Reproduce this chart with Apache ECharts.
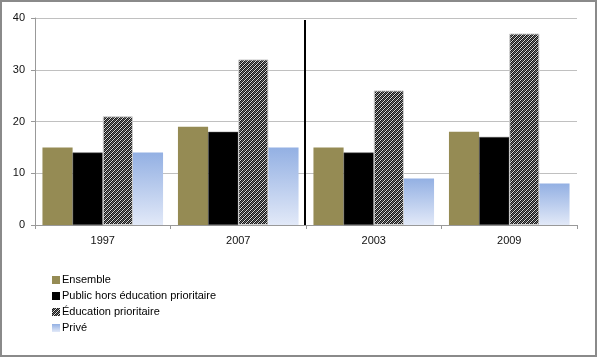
<!DOCTYPE html>
<html><head><meta charset="utf-8">
<script src="https://cdn.jsdelivr.net/npm/echarts@6/dist/echarts.min.js"></script>
<style>
html,body{margin:0;padding:0;background:#fff;}
#wrap{width:597px;height:357px;box-sizing:border-box;border:2px solid #8a8a8a;position:relative;}
#c{position:absolute;left:-2px;top:-2px;width:597px;height:357px;}
</style></head><body>
<div id="wrap"><div id="c"></div></div>
<script>
var categories = ['1997', '2007', '2003', '2009'];
var seriesNames = ['Ensemble', 'Public hors éducation prioritaire', 'Éducation prioritaire', 'Privé'];
var ensemble = [15, 19, 15, 18];
var publicHors = [14, 18, 14, 17];
var educPrio = [21, 32, 26, 37];
var prive = [14, 15, 9, 8];
var yTicks = [0, 10, 20, 30, 40];

function makePattern() {
  var cv = document.createElement('canvas');
  cv.width = 4; cv.height = 4;
  var ctx = cv.getContext('2d');
  var cols = ['#dcdcdc', '#111111', '#6a6a6a', '#1e1e1e'];
  for (var x = 0; x < 4; x++) {
    for (var y = 0; y < 4; y++) {
      ctx.fillStyle = cols[(x + y) % 4];
      ctx.fillRect(x, y, 1, 1);
    }
  }
  return cv;
}
var pat = {image: makePattern(), repeat: 'repeat'};
var grad = new echarts.graphic.LinearGradient(0, 0, 0, 1, [
  {offset: 0, color: '#93b0e3'},
  {offset: 1, color: '#e2e9f8'}
]);

var chart = echarts.init(document.getElementById('c'), null, {renderer: 'canvas'});
var font = 'Liberation Sans';
chart.setOption({
  animation: false,
  backgroundColor: 'transparent',
  textStyle: {fontFamily: font},
  grid: {left: 35, right: 20, top: 18, bottom: 132},
  legend: {
    orient: 'vertical', left: 47, top: 269, icon: 'rect',
    itemWidth: 8, itemHeight: 8, itemGap: 4,
    itemStyle: {borderWidth: 0},
    textStyle: {fontSize: 11, lineHeight: 12, color: '#000', fontFamily: font, padding: [0, 0, 0, -3]},
    data: seriesNames
  },
  xAxis: {
    type: 'category', data: categories,
    axisLine: {lineStyle: {color: '#999'}},
    axisTick: {show: true, length: 4, lineStyle: {color: '#999'}},
    axisLabel: {fontSize: 11, color: '#111', margin: 10}
  },
  yAxis: {
    type: 'value', min: 0, max: 40, interval: 10,
    axisLine: {show: true, lineStyle: {color: '#999'}},
    axisTick: {show: true, length: 4, lineStyle: {color: '#999'}},
    splitLine: {lineStyle: {color: '#c0c0c0'}},
    axisLabel: {fontSize: 11, color: '#111', margin: 10}
  },
  series: [
    {name: seriesNames[0], type: 'bar', data: ensemble, barGap: '0%', barCategoryGap: '11%',
     itemStyle: {color: '#958b54'}},
    {name: seriesNames[1], type: 'bar', data: publicHors, barGap: '0%',
     itemStyle: {color: '#000000', borderColor: '#555', borderWidth: 0.5}},
    {name: seriesNames[2], type: 'bar', data: educPrio, barGap: '0%',
     itemStyle: {color: pat, borderColor: '#d0d0d0', borderWidth: 1}},
    {name: seriesNames[3], type: 'bar', data: prive, barGap: '0%',
     itemStyle: {color: grad}}
  ]
});

var x1 = chart.convertToPixel({xAxisIndex: 0}, 1);
var x2 = chart.convertToPixel({xAxisIndex: 0}, 2);
var xm = Math.round((x1 + x2) / 2) - 1;
var yTop = chart.convertToPixel({yAxisIndex: 0}, 39.6);
var yBot = chart.convertToPixel({yAxisIndex: 0}, 0);
chart.setOption({
  graphic: [{type: 'line', shape: {x1: xm, y1: yTop, x2: xm, y2: yBot},
             style: {stroke: '#000', lineWidth: 2}, z: 10}]
});
</script>
</body></html>
